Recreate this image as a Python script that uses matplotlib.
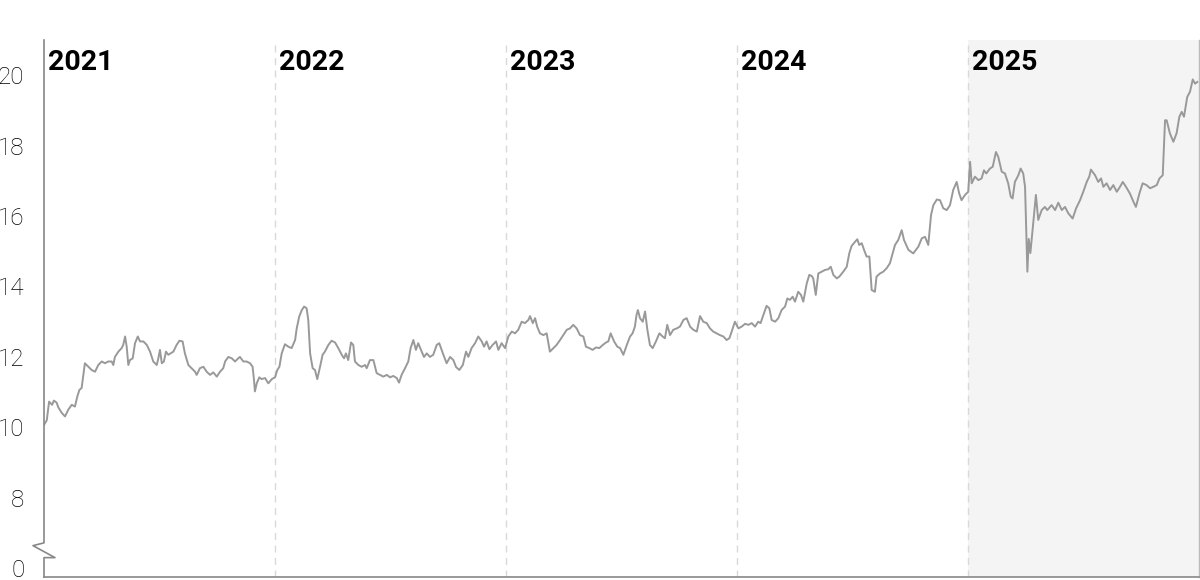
import matplotlib
matplotlib.use("Agg")
import matplotlib.pyplot as plt
import numpy as np

# time as years elapsed since 2021-01-01
t_offset = [
    0.000, 0.012, 0.022, 0.035, 0.043, 0.055, 0.061, 0.077, 0.091, 0.105,
    0.120, 0.134, 0.144, 0.153, 0.163, 0.177, 0.192, 0.206, 0.221, 0.235,
    0.250, 0.264, 0.278, 0.293, 0.300, 0.307, 0.322, 0.336, 0.343, 0.351,
    0.358, 0.365, 0.372, 0.384, 0.394, 0.406, 0.416, 0.430, 0.445, 0.459,
    0.473, 0.488, 0.495, 0.502, 0.510, 0.519, 0.528, 0.538, 0.548, 0.560,
    0.574, 0.586, 0.600, 0.610, 0.625, 0.639, 0.654, 0.661, 0.675, 0.690,
    0.704, 0.719, 0.733, 0.748, 0.762, 0.776, 0.784, 0.798, 0.813, 0.827,
    0.841, 0.848, 0.863, 0.877, 0.892, 0.903, 0.909, 0.913, 0.921, 0.932,
    0.942, 0.957, 0.971, 0.986, 1.000, 1.010, 1.019, 1.029, 1.043, 1.058,
    1.072, 1.087, 1.094, 1.105, 1.116, 1.126, 1.137, 1.144, 1.152, 1.163,
    1.173, 1.183, 1.195, 1.206, 1.216, 1.231, 1.245, 1.260, 1.274, 1.289,
    1.299, 1.307, 1.317, 1.329, 1.339, 1.346, 1.361, 1.375, 1.390, 1.397,
    1.411, 1.426, 1.440, 1.455, 1.469, 1.484, 1.498, 1.512, 1.527, 1.537,
    1.548, 1.563, 1.577, 1.587, 1.599, 1.610, 1.620, 1.635, 1.645, 1.657,
    1.671, 1.685, 1.700, 1.711, 1.729, 1.743, 1.758, 1.772, 1.784, 1.798,
    1.813, 1.827, 1.837, 1.851, 1.866, 1.880, 1.895, 1.905, 1.916, 1.928,
    1.942, 1.957, 1.967, 1.981, 1.996, 2.010, 2.025, 2.039, 2.053, 2.068,
    2.082, 2.097, 2.104, 2.116, 2.126, 2.135, 2.147, 2.162, 2.176, 2.190,
    2.205, 2.219, 2.234, 2.248, 2.263, 2.277, 2.291, 2.306, 2.320, 2.335,
    2.346, 2.361, 2.375, 2.390, 2.404, 2.419, 2.433, 2.443, 2.453, 2.468,
    2.482, 2.494, 2.508, 2.523, 2.537, 2.548, 2.558, 2.565, 2.571, 2.580,
    2.592, 2.602, 2.612, 2.623, 2.635, 2.649, 2.664, 2.678, 2.688, 2.698,
    2.710, 2.724, 2.739, 2.753, 2.768, 2.782, 2.797, 2.811, 2.826, 2.840,
    2.854, 2.869, 2.883, 2.897, 2.912, 2.926, 2.941, 2.955, 2.967, 2.977,
    2.991, 3.006, 3.020, 3.035, 3.049, 3.064, 3.078, 3.092, 3.102, 3.114,
    3.128, 3.140, 3.150, 3.165, 3.179, 3.193, 3.208, 3.218, 3.229, 3.241,
    3.251, 3.265, 3.277, 3.287, 3.302, 3.313, 3.323, 3.330, 3.341, 3.352,
    3.367, 3.381, 3.395, 3.406, 3.417, 3.432, 3.443, 3.460, 3.475, 3.486,
    3.496, 3.511, 3.521, 3.529, 3.540, 3.550, 3.561, 3.573, 3.583, 3.597,
    3.604, 3.619, 3.633, 3.648, 3.662, 3.670, 3.684, 3.698, 3.713, 3.723,
    3.742, 3.763, 3.785, 3.800, 3.814, 3.828, 3.840, 3.850, 3.865, 3.879,
    3.893, 3.908, 3.922, 3.936, 3.951, 3.962, 3.972, 3.987, 4.001, 4.009,
    4.016, 4.030, 4.045, 4.059, 4.069, 4.079, 4.095, 4.107, 4.121, 4.131,
    4.146, 4.160, 4.174, 4.185, 4.193, 4.203, 4.218, 4.228, 4.239, 4.247,
    4.257, 4.263, 4.270, 4.280, 4.294, 4.304, 4.319, 4.333, 4.343, 4.362,
    4.377, 4.391, 4.406, 4.420, 4.434, 4.453, 4.468, 4.485, 4.499, 4.514,
    4.525, 4.532, 4.550, 4.564, 4.576, 4.586, 4.600, 4.615, 4.629, 4.644,
    4.658, 4.670, 4.684, 4.701, 4.716, 4.727, 4.742, 4.756, 4.773, 4.788,
    4.802, 4.817, 4.829, 4.843, 4.853, 4.860, 4.874, 4.889, 4.903, 4.915,
    4.925, 4.935, 4.949, 4.961, 4.973, 4.983, 4.993,
]

values = [
    10.07, 10.20, 10.73, 10.64, 10.76, 10.70, 10.58, 10.41, 10.31, 10.50,
    10.64, 10.59, 10.87, 11.06, 11.12, 11.82, 11.72, 11.63, 11.58, 11.77,
    11.87, 11.82, 11.87, 11.87, 11.77, 12.00, 12.15, 12.25, 12.34, 12.58,
    12.29, 11.77, 11.91, 11.96, 12.39, 12.58, 12.44, 12.44, 12.34, 12.15,
    11.87, 11.77, 11.96, 12.20, 11.82, 11.87, 12.15, 12.06, 12.10, 12.15,
    12.34, 12.46, 12.44, 12.10, 11.77, 11.68, 11.58, 11.49, 11.68, 11.72,
    11.58, 11.49, 11.56, 11.44, 11.58, 11.68, 11.87, 12.00, 11.96, 11.87,
    11.96, 12.00, 11.87, 11.87, 11.82, 11.72, 11.35, 11.02, 11.25, 11.42,
    11.37, 11.40, 11.25, 11.37, 11.42, 11.63, 11.72, 12.10, 12.36, 12.29,
    12.25, 12.48, 12.81, 13.15, 13.33, 13.43, 13.38, 13.05, 12.10, 11.68,
    11.63, 11.37, 11.72, 12.06, 12.15, 12.34, 12.46, 12.41, 12.25, 12.06,
    11.96, 12.10, 11.91, 12.41, 12.34, 11.87, 11.77, 11.72, 11.77, 11.68,
    11.91, 11.91, 11.54, 11.49, 11.44, 11.49, 11.42, 11.46, 11.40, 11.27,
    11.49, 11.68, 11.87, 12.25, 12.48, 12.20, 12.39, 12.15, 12.00, 12.10,
    12.00, 12.06, 12.34, 12.39, 12.06, 11.82, 12.00, 11.91, 11.71, 11.63,
    11.77, 12.15, 12.00, 12.25, 12.39, 12.58, 12.44, 12.29, 12.44, 12.22,
    12.34, 12.44, 12.20, 12.39, 12.25, 12.58, 12.72, 12.67, 12.77, 13.00,
    12.96, 13.05, 13.16, 12.96, 13.10, 12.86, 12.67, 12.62, 12.67, 12.15,
    12.25, 12.34, 12.48, 12.62, 12.77, 12.81, 12.91, 12.81, 12.62, 12.58,
    12.29, 12.25, 12.20, 12.27, 12.25, 12.34, 12.41, 12.44, 12.67, 12.44,
    12.29, 12.25, 12.06, 12.34, 12.58, 12.67, 12.86, 13.19, 13.33, 13.10,
    13.00, 13.29, 12.77, 12.34, 12.25, 12.44, 12.67, 12.58, 12.53, 12.91,
    12.62, 12.77, 12.81, 12.86, 13.05, 13.10, 12.86, 12.77, 12.72, 13.16,
    13.00, 12.96, 12.81, 12.72, 12.67, 12.62, 12.58, 12.48, 12.53, 12.72,
    13.00, 12.81, 12.86, 12.94, 12.91, 12.96, 12.86, 13.00, 12.96, 13.19,
    13.45, 13.38, 13.05, 13.00, 13.10, 13.33, 13.43, 13.66, 13.62, 13.71,
    13.57, 13.85, 13.76, 13.57, 14.09, 14.33, 14.30, 14.23, 13.76, 14.37,
    14.42, 14.47, 14.49, 14.56, 14.33, 14.23, 14.28, 14.42, 14.56, 14.94,
    15.15, 15.27, 15.34, 15.18, 15.23, 15.04, 14.85, 14.85, 13.90, 13.85,
    14.28, 14.37, 14.42, 14.52, 14.66, 14.85, 15.18, 15.32, 15.60, 15.32,
    15.04, 14.94, 15.13, 15.37, 15.41, 15.18, 16.03, 16.31, 16.47, 16.45,
    16.22, 16.17, 16.31, 16.74, 16.97, 16.64, 16.45, 16.60, 16.69, 17.54,
    16.93, 17.12, 17.02, 17.07, 17.30, 17.21, 17.35, 17.40, 17.82, 17.68,
    17.26, 17.21, 16.93, 16.55, 16.50, 16.97, 17.16, 17.35, 17.21, 16.83,
    14.42, 15.35, 14.95, 15.65, 16.60, 15.89, 16.17, 16.26, 16.17, 16.31,
    16.17, 16.38, 16.17, 16.26, 16.08, 15.93, 16.22, 16.45, 16.69, 16.97,
    17.12, 17.32, 17.16, 16.97, 17.07, 16.83, 16.93, 16.74, 16.88, 16.69,
    16.83, 16.97, 16.83, 16.64, 16.41, 16.26, 16.64, 16.93, 16.88, 16.79,
    16.83, 16.88, 17.07, 17.16, 18.72, 18.72, 18.35, 18.11, 18.35, 18.82,
    18.96, 18.82, 19.38, 19.53, 19.88, 19.76, 19.81,
]

start_year = 2021
years = [2021, 2022, 2023, 2024, 2025]
highlight_year = 2025

# broken axis: the "0" label sits where 6 would be
tick_values = [6, 8, 10, 12, 14, 16, 18, 20]
tick_labels = ["0", "8", "10", "12", "14", "16", "18", "20"]

plt.rcParams["font.family"] = ["Roboto", "DejaVu Sans"]

fig = plt.figure(figsize=(12, 5.8), dpi=100)
ax = fig.add_axes([44 / 1200, 3 / 580, 1155 / 1200, 537 / 580])

t = start_year + np.asarray(t_offset)
v = np.asarray(values)

ax.axvspan(highlight_year, highlight_year + 1, color="#f4f4f4", lw=0, zorder=0)
for yr in years[1:]:
    ax.axvline(yr, color="#d9d9d9", lw=1, ls=(0, (5, 4)), zorder=1)

ax.plot(t, v, color="#999999", lw=1.4, zorder=3)

for yr in years:
    ax.text(yr + 0.017, 0.983, str(yr), transform=ax.get_xaxis_transform(),
            ha="left", va="top", fontsize=20.5, fontweight="bold", color="#000000")

ax.set_xlim(start_year, start_year + 5)
ax.set_ylim(5.75, 21.0)
ax.set_yticks(tick_values)
ax.set_yticklabels(tick_labels)
ax.set_xticks([])
ax.tick_params(axis="y", length=0, pad=14, labelsize=17.5, labelcolor="#000000")
for lab in ax.get_yticklabels():
    lab.set_fontweight("light")

for side in ["top", "left"]:
    ax.spines[side].set_visible(False)
ax.spines["bottom"].set_color("#888888")
ax.spines["bottom"].set_linewidth(1.2)
ax.spines["right"].set_color("#bbbbbb")
ax.spines["right"].set_linewidth(1)

# left spine with a zigzag break between 0 and 8
trans = ax.get_yaxis_transform()
dx = 11 / 1155
brk_top, brk_mid, brk_bot = 6.72, 6.64, 6.30
ax.plot([0, 0, -dx, dx, 0, 0], [21.0, brk_top, brk_mid, brk_bot, brk_bot, 5.75],
        transform=trans, color="#888888", lw=1.2, clip_on=False, zorder=4)

fig.savefig("out.png", dpi=100)
